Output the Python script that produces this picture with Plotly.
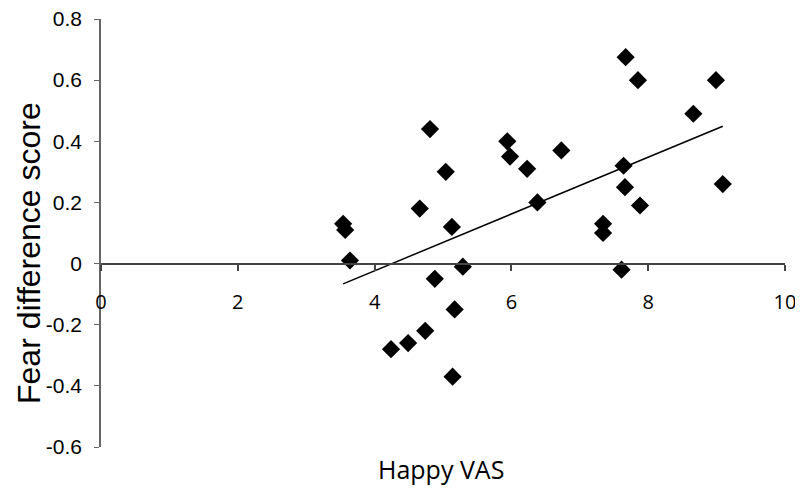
import numpy as np
import plotly.graph_objects as go

happy_vas = [3.54, 3.57, 3.64, 4.24, 4.49, 4.66, 4.74, 4.81, 4.88, 5.04,
             5.13, 5.17, 5.14, 5.29, 5.94, 5.98, 6.23, 6.38, 6.73, 7.34,
             7.34, 7.61, 7.64, 7.67, 7.66, 7.85, 7.88, 8.66, 8.99, 9.09]
fear_diff = [0.13, 0.11, 0.01, -0.28, -0.26, 0.18, -0.22, 0.44, -0.05, 0.30,
             0.12, -0.15, -0.37, -0.01, 0.40, 0.35, 0.31, 0.20, 0.37, 0.13,
             0.10, -0.02, 0.32, 0.675, 0.25, 0.60, 0.19, 0.49, 0.60, 0.26]
x_ticks = [0, 2, 4, 6, 8, 10]
y_ticks = [-0.6, -0.4, -0.2, 0, 0.2, 0.4, 0.6, 0.8]
y_tick_labels = ["-0.6", "-0.4", "-0.2", "0", "0.2", "0.4", "0.6", "0.8"]

slope, intercept = np.polyfit(happy_vas, fear_diff, 1)
tx = np.array([min(happy_vas), max(happy_vas)])
ty = slope * tx + intercept

# page body has an 8px default margin; figure is sized to fill the rest
OFF = 8
W, H = 803 - OFF, 494 - OFF
L, R, T, B = 101 - OFF, 18, 19 - OFF, 47
pw, ph = W - L - R, H - T - B

def px_x(x):
    return (x - OFF - L) / pw

def px_y(y):
    return (H - B - (y - OFF)) / ph

fig = go.Figure()
fig.add_trace(go.Scatter(x=tx, y=ty, mode="lines",
                         line=dict(color="black", width=1.5), showlegend=False))
fig.add_trace(go.Scatter(x=happy_vas, y=fear_diff, mode="markers",
                         marker=dict(symbol="diamond", size=14, color="black"),
                         showlegend=False, cliponaxis=False))

fig.update_layout(
    width=W, height=H,
    margin=dict(l=L, r=R, t=T, b=B),
    plot_bgcolor="white", paper_bgcolor="white",
    xaxis=dict(range=[0, 10], tickvals=x_ticks, showgrid=False, zeroline=False,
               showline=True, linecolor="#444", linewidth=2,
               ticks="outside", ticklen=6, tickcolor="#444", tickwidth=1.5,
               anchor="free", position=0.6 / 1.4, automargin=False,
               ticklabelstandoff=14, ticklabeloverflow="allow",
               tickfont=dict(family="Open Sans", size=20, color="black")),
    yaxis=dict(range=[-0.6, 0.8], tickvals=y_ticks, ticktext=y_tick_labels,
               showgrid=False, zeroline=False, automargin=False,
               showline=True, linecolor="#666", linewidth=1.5,
               ticks="outside", ticklen=5, tickcolor="#666",
               ticklabelstandoff=8, ticklabeloverflow="allow",
               tickfont=dict(family="Liberation Sans", size=21, color="black")),
    annotations=[
        dict(text="Happy VAS", x=px_x(441), y=px_y(469),
             xref="paper", yref="paper", showarrow=False,
             xanchor="center", yanchor="middle",
             font=dict(family="Open Sans", size=25, color="black")),
        dict(text="Fear difference score", x=px_x(29), y=px_y(253),
             xref="paper", yref="paper", showarrow=False, textangle=-90,
             xanchor="center", yanchor="middle",
             font=dict(family="Liberation Sans", size=32, color="black")),
    ],
)

fig.write_html("out.html")
